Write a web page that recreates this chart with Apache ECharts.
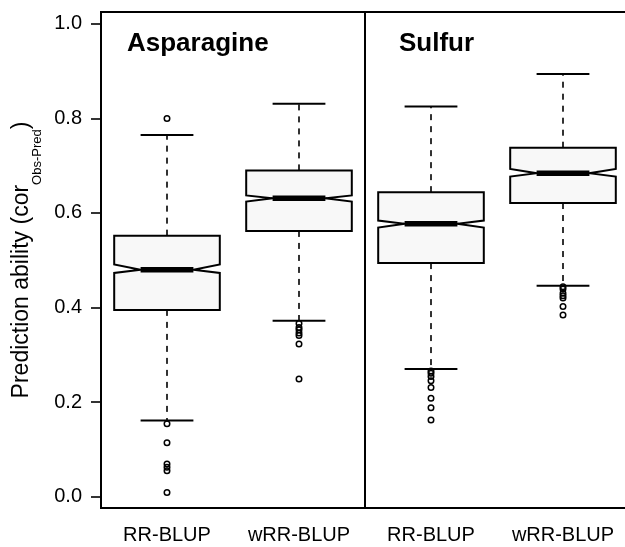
<!DOCTYPE html>
<html>
<head>
<meta charset="utf-8">
<script src="https://cdn.jsdelivr.net/npm/echarts@6/dist/echarts.min.js"></script>
<style>
  html, body { margin: 0; padding: 0; background: #fff; overflow: hidden; }
  #chart { width: 625px; height: 547px; }
</style>
</head>
<body>
<div id="chart"></div>
<script>
// boxes, left to right: Asparagine RR / wRR, Sulfur RR / wRR
const methods = ['RR-BLUP', 'wRR-BLUP', 'RR-BLUP', 'wRR-BLUP'];
const traits = ['Asparagine', 'Sulfur'];
const yTicks = [0, 0.2, 0.4, 0.6, 0.8, 1.0];

const whiskerLow = [0.161, 0.372, 0.270, 0.446];
const q1 = [0.395, 0.562, 0.494, 0.621];
const median = [0.480, 0.631, 0.577, 0.684];
const q3 = [0.552, 0.690, 0.644, 0.738];
const whiskerHigh = [0.765, 0.831, 0.825, 0.894];
const notchLow = [0.473, 0.624, 0.569, 0.677];
const notchHigh = [0.491, 0.637, 0.584, 0.693];

const outliers = [
  [0.800, 0.154, 0.114, 0.069, 0.062, 0.055, 0.009],
  [0.366, 0.358, 0.353, 0.346, 0.341, 0.323, 0.249],
  [0.266, 0.261, 0.254, 0.245, 0.231, 0.208, 0.188, 0.162],
  [0.444, 0.439, 0.430, 0.425, 0.420, 0.402, 0.384]
];

const FONT = '"Liberation Sans", Arial, Helvetica, sans-serif';

const boxData = methods.map((m, i) =>
  [i, whiskerLow[i], q1[i], median[i], q3[i], whiskerHigh[i], notchLow[i], notchHigh[i]]);
const outlierData = [];
outliers.forEach((arr, i) => arr.forEach(v => outlierData.push([i, v])));

function renderBox(params, api) {
  const i = api.value(0);
  const x = api.coord([i, 0])[0];
  const w = api.size([1, 0])[0] * 0.4;
  const y = k => api.coord([i, api.value(k)])[1];
  const lo = y(1), b1 = y(2), md = y(3), b3 = y(4), hi = y(5), nl = y(6), nh = y(7);
  const solid = { stroke: '#000', lineWidth: 2 };
  const dashed = { stroke: '#000', lineWidth: 1.6, lineDash: [6, 6] };
  return {
    type: 'group',
    children: [
      { type: 'line', shape: { x1: x, y1: b3, x2: x, y2: hi }, style: dashed },
      { type: 'line', shape: { x1: x, y1: b1, x2: x, y2: lo }, style: dashed },
      { type: 'line', shape: { x1: x - w / 2, y1: hi, x2: x + w / 2, y2: hi }, style: solid },
      { type: 'line', shape: { x1: x - w / 2, y1: lo, x2: x + w / 2, y2: lo }, style: solid },
      {
        type: 'polygon',
        shape: {
          points: [
            [x - w, b3], [x + w, b3], [x + w, nh], [x + w / 2, md], [x + w, nl],
            [x + w, b1], [x - w, b1], [x - w, nl], [x - w / 2, md], [x - w, nh]
          ]
        },
        style: { fill: '#f8f8f8', stroke: '#000', lineWidth: 2 }
      },
      { type: 'line', shape: { x1: x - w / 2, y1: md, x2: x + w / 2, y2: md }, style: { stroke: '#000', lineWidth: 5.5 } }
    ]
  };
}

function renderDivider(params, api) {
  const cs = params.coordSys;
  const x = (api.coord([1, 0])[0] + api.coord([2, 0])[0]) / 2;
  return {
    type: 'line',
    shape: { x1: x, y1: cs.y, x2: x, y2: cs.y + cs.height },
    style: { stroke: '#000', lineWidth: 2 }
  };
}

const chart = echarts.init(document.getElementById('chart'));
chart.setOption({
  animation: false,
  backgroundColor: '#fff',
  // plot region runs past the right edge of the picture, like the original
  grid: {
    left: 101, top: 12, width: 528, height: 496,
    outerBoundsMode: 'none', containLabel: false,
    show: true, borderColor: '#000', borderWidth: 2
  },
  xAxis: {
    type: 'category',
    data: methods,
    axisLine: { onZero: false, lineStyle: { color: '#000', width: 2 } },
    axisTick: { alignWithLabel: true, length: 10, lineStyle: { color: '#000', width: 1.6 } },
    axisLabel: { interval: 0, color: '#000', fontSize: 20, fontFamily: FONT, margin: 17 },
    splitLine: { show: false }
  },
  yAxis: {
    type: 'value',
    min: -0.024,
    max: 1.025,
    axisLine: { show: true, lineStyle: { color: '#000', width: 2 } },
    axisTick: { show: true, length: 10, customValues: yTicks, lineStyle: { color: '#000', width: 1.6 } },
    axisLabel: {
      customValues: yTicks, color: '#000', fontSize: 20, fontFamily: FONT, margin: 19,
      formatter: v => v.toFixed(1)
    },
    splitLine: { show: false }
  },
  graphic: [
    {
      type: 'text', x: 127, y: 44,
      style: { text: traits[0], font: 'bold 26px ' + FONT, fill: '#000', verticalAlign: 'middle' }
    },
    {
      type: 'text', x: 399, y: 44,
      style: { text: traits[1], font: 'bold 26px ' + FONT, fill: '#000', verticalAlign: 'middle' }
    },
    {
      type: 'text', x: 22, y: 260, rotation: Math.PI / 2,
      style: {
        text: 'Prediction ability (cor{sub|Obs-Pred})',
        fontSize: 23, fontFamily: FONT, fill: '#000',
        align: 'center', verticalAlign: 'middle',
        rich: { sub: { fontSize: 13, fontFamily: FONT, padding: [30, 0, 0, 0] } }
      }
    }
  ],
  series: [
    { type: 'custom', renderItem: renderDivider, data: [[0]], silent: true, z: 1 },
    {
      type: 'custom',
      renderItem: renderBox,
      data: boxData,
      encode: { x: 0, y: [1, 2, 3, 4, 5] },
      silent: true,
      z: 2
    },
    {
      type: 'scatter',
      data: outlierData,
      symbol: 'circle',
      symbolSize: 5.5,
      itemStyle: { color: 'rgba(0,0,0,0)', borderColor: '#000', borderWidth: 1.5, opacity: 1 },
      silent: true,
      z: 3
    }
  ]
});
</script>
</body>
</html>
